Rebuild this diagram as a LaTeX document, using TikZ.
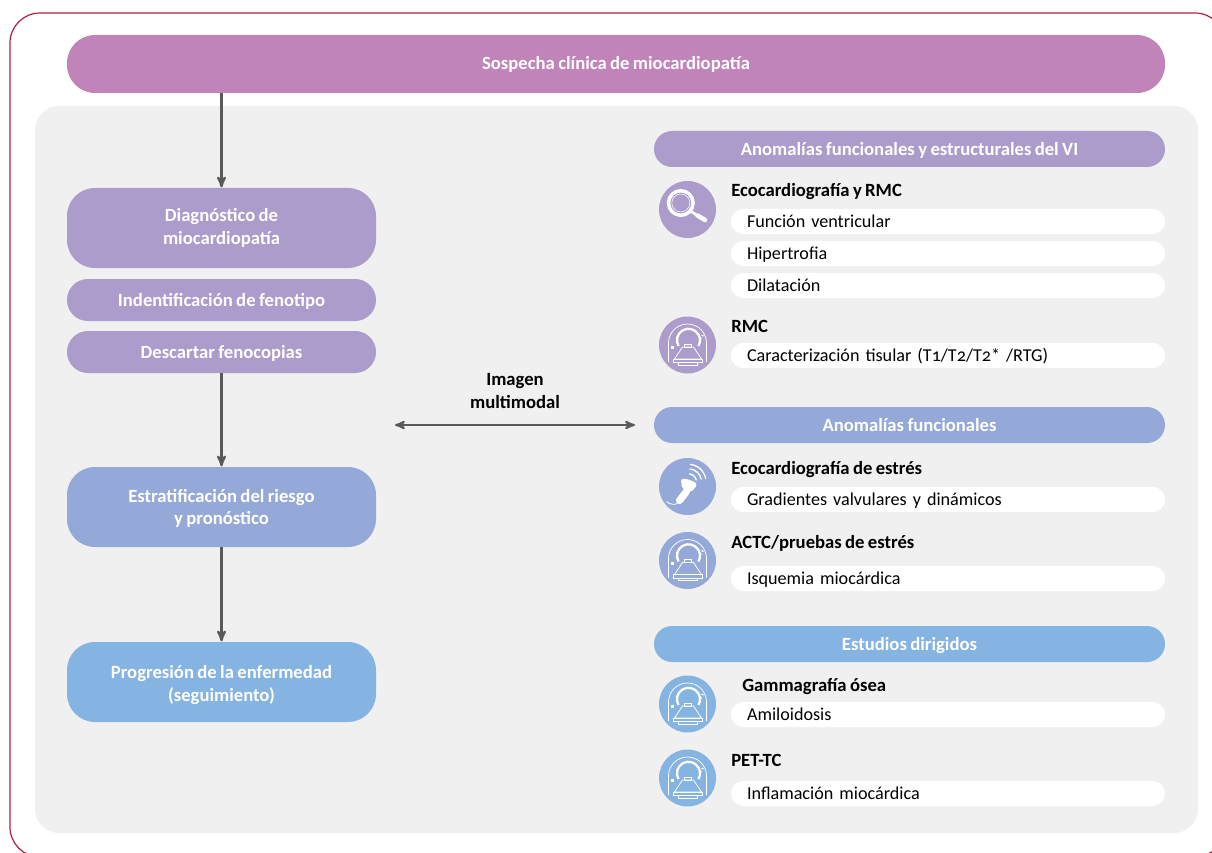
\documentclass[tikz,border=0pt]{standalone}
\usepackage{fontspec}
\setmainfont[Numbers=OldStyle,WordSpace=0.8]{Carlito}
\usetikzlibrary{arrows,positioning}

\definecolor{framered}{HTML}{B01E3F}
\definecolor{panelgray}{HTML}{F0F0F0}
\definecolor{malva}{HTML}{C084B8}
\definecolor{lila}{HTML}{AB9CCB}
\definecolor{azul}{HTML}{94A9D7}
\definecolor{celeste}{HTML}{85B3E2}
\definecolor{flecha}{HTML}{58595B}

\newcommand{\boxstrut}{\rule[-2.7pt]{0pt}{13.5pt}}
\newcommand{\primera}[1]{\rule{0pt}{#1}}

\tikzset{
  bajar/.style={execute at begin node={\rule{0pt}{\dimexpr10.8pt+#1\relax}}},
  bigbox/.style={rectangle,rounded corners=21pt,minimum width=231.75pt,minimum height=60pt,outer sep=0pt,
    inner sep=0pt,align=center,text=white,font=\fontsize{14}{17.1}\selectfont\bfseries,
    execute at begin node=\boxstrut,execute at end node=\boxstrut},
  pillbox/.style={bigbox,bajar=1.5pt,rounded corners=15.7pt,minimum height=31.5pt},
  header/.style={bigbox,bajar=1.5pt,rounded corners=13.5pt,minimum width=383.25pt,minimum height=27pt},
  itembox/.style={rectangle,fill=white,rounded corners=9.3pt,minimum height=18.75pt,outer sep=0pt,
    text width=301.5pt,inner xsep=12pt,inner ysep=0pt,align=left,text height=11pt,text depth=2pt,
    font=\fontsize{13.6}{15}\selectfont},
  techtitle/.style={inner sep=0pt,anchor=west,text height=9.5pt,text depth=.5pt,
    font=\fontsize{14}{15}\selectfont\bfseries},
  iconbg/.style={circle,minimum size=42.75pt,inner sep=0pt},
  flow/.style={->,>=stealth',line width=1.7pt,draw=flecha,shorten >=.5pt},
  flowboth/.style={flow,<->,line width=1.5pt,shorten <=0pt,shorten >=0pt},
  scanner/.pic={
    \begin{scope}[x=.75pt,y=.75pt,draw=white,line width=.55pt]
      \draw (-19,-17) -- (-19,2) arc[start angle=180,end angle=0,radius=19] -- (19,-17);
      \draw[line width=1.7pt] (-9,-1) arc[start angle=210,end angle=-30,radius=11.5];
      \draw (-3.5,1) -- (4,1) -- (4,-2) -- (-3.5,-2) -- cycle;
      \draw (-5,-2) -- (6,-2) -- (14,-14) -- (-13,-14) -- cycle;
      \draw (-14,-14) rectangle (15,-17.5);
      \draw (-9,-17.5) rectangle (10,-20);
      \draw[line width=1pt] (12,7) -- (14,6) (14,10) -- (16,9);
      \fill[white] (-17,-4) rectangle (-14,-1);
    \end{scope}
  },
  lupa/.pic={
    \begin{scope}[x=.75pt,y=.75pt]
      \draw[white,line width=2.6pt] (-6.7,6.5) circle[radius=12.3];
      \draw[white,line width=.4pt] (-6.7,6.5) circle[radius=9];
      \draw[white,line width=2pt] (3,-1.5) -- (9,-5.5);
      \draw[white,line width=3.4pt,line cap=round] (10,-6) -- (17.5,-10.5);
    \end{scope}
  },
  sonda/.pic={
    \begin{scope}[x=.75pt,y=.75pt]
      \fill[white,rounded corners=1.5pt] (-6.5,7.5) .. controls (-2,8) and (6,6) .. (10,1.5) -- (3,-6) -- (-5.5,-2) -- cycle;
      \draw[white,line width=5.4pt,line cap=round] (-1,-5) -- (-8,-14);
      \draw[white,line width=.6pt] (-10,-17) .. controls (-13,-18.5) and (-18,-18) .. (-21,-15);
      \foreach \r in {8,13,17.5}
        \draw[white,line width=1pt] (1,4.7) ++(10:\r) arc[start angle=10,end angle=85,radius=\r];
    \end{scope}
  }
}

\begin{document}
\begin{tikzpicture}[x=.75pt,y=-.75pt]
  \useasboundingbox (0,0) rectangle (1212,852);

  \begin{scope}
    \clip (0,0) rectangle (1212,852);
    \draw[framered,line width=.9pt,rounded corners=22.5pt] (10,13) rectangle (1225,857);
  \end{scope}
  \fill[panelgray,rounded corners=18pt] (35,106) rectangle (1198,833);

  % main column
  \node[bigbox,fill=malva,minimum width=823.5pt,minimum height=43.5pt] (sospecha) at (616,64) {Sospecha clínica de miocardiopatía};
  \node[bigbox,fill=lila] (diag) at (221.5,228) {Diagnóstico de\\miocardiopatía};
  \node[pillbox,fill=lila] (fenotipo) [below=8.25pt of diag] {Indentificación de fenotipo};
  \node[pillbox,fill=lila] (fenocopias) [below=7.5pt of fenotipo] {Descartar fenocopias};
  \node[bigbox,fill=azul] (riesgo) [below=70.5pt of fenocopias] {\primera{12.5pt}Estratificación del riesgo\\y pronóstico};
  \node[bigbox,fill=celeste] (progresion) [below=71.25pt of riesgo] {\primera{14.1pt}Progresión de la enfermedad\\(seguimiento)};

  % right column
  \node[header,fill=lila] (anomfe) at (909.5,149) {Anomalías funcionales y estructurales del VI};
  \node[iconbg,fill=lila] (icoeco) at (687.5,209.5) {};
  \node[techtitle] (ecormc) at (731,191) {Ecocardiografía y RMC};
  \node[itembox,anchor=west] (funcion) at (731,221.5) {Función ventricular};
  \node[itembox] (hiper) [below=5.25pt of funcion] {Hipertrofia};
  \node[itembox] (dila) [below=5.25pt of hiper] {Dilatación};
  \node[iconbg,fill=lila] (icormc) at (687.5,345) {};
  \node[techtitle] (rmc) at (731,326) {RMC};
  \node[itembox,anchor=west] (tisular) at (731,355.5) {Caracterización tisular (T1/T2/T2* /RTG)};

  \node[header,fill=azul] (anomf) at (909.5,425) {Anomalías funcionales};
  \node[iconbg,fill=azul] (icosonda) at (687.5,486.5) {};
  \node[techtitle] (ecoestres) at (731,468) {Ecocardiografía de estrés};
  \node[itembox,anchor=west] (gradientes) at (731,499.5) {Gradientes valvulares y dinámicos};
  \node[iconbg,fill=azul] (icoactc) at (687.5,560.5) {};
  \node[techtitle] (actc) at (731,542) {ACTC/pruebas de estrés};
  \node[itembox,anchor=west] (isquemia) at (731,578.5) {Isquemia miocárdica};

  \node[header,fill=celeste] (estudios) at (909.5,644) {Estudios dirigidos};
  \node[iconbg,fill=celeste] (icogamma) at (687.5,704) {};
  \node[techtitle] (gamma) at (742,685) {Gammagrafía ósea};
  \node[itembox,anchor=west] (amilo) at (731,714.5) {Amiloidosis};
  \node[iconbg,fill=celeste] (icopet) at (687.5,778) {};
  \node[techtitle] (pet) at (731,760) {PET-TC};
  \node[itembox,anchor=west] (infla) at (731,793.5) {Inflamación miocárdica};

  \pic at (icoeco) {lupa};
  \pic at (icormc) {scanner};
  \pic at (icosonda) {sonda};
  \pic at (icoactc) {scanner};
  \pic at (icogamma) {scanner};
  \pic at (icopet) {scanner};

  % multimodal link
  \node[align=center,inner sep=0pt,font=\fontsize{14}{17}\selectfont\bfseries] (imagen) at (515,391) {Imagen\\multimodal};
  \coordinate (linkizq) at (395,425);
  \coordinate (linkder) at (635,425);

  \draw[flow] (sospecha.south -| diag.north) -- (diag.north);
  \draw[flow] (fenocopias) -- (riesgo);
  \draw[flow] (riesgo) -- (progresion);
  \draw[flowboth] (linkizq) -- (linkder);
\end{tikzpicture}
\end{document}
